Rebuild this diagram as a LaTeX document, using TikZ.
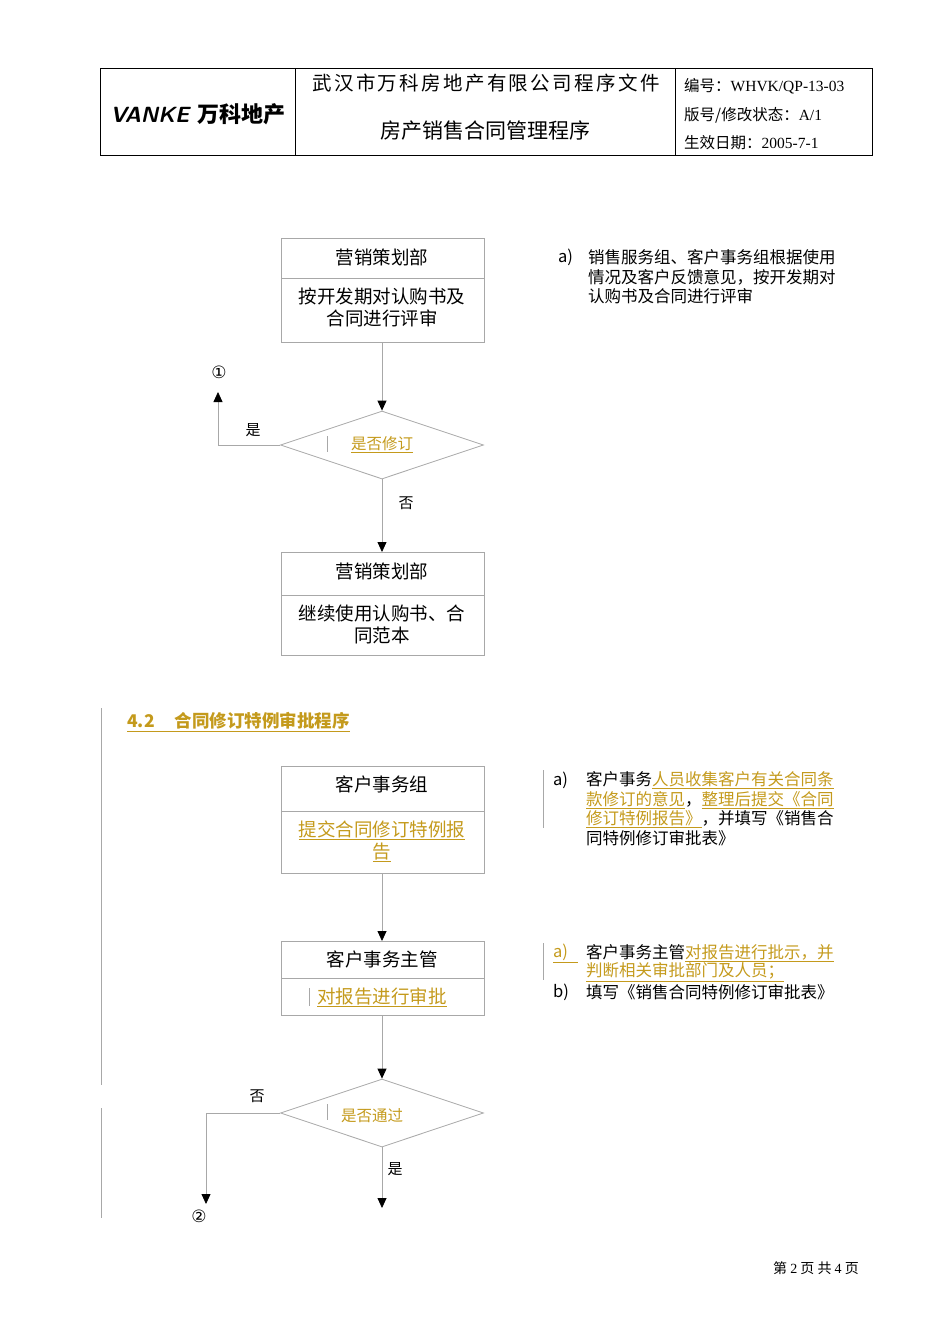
\documentclass[tikz,border=0pt]{standalone}
\usepackage{fontspec}
\setmainfont{Liberation Serif}
\newfontfamily\cjk{Noto Sans CJK SC}
\newfontfamily\cjkw[LetterSpace=12]{Noto Sans CJK SC}
\newfontfamily\dejavu{DejaVu Sans}
\usetikzlibrary{arrows.meta,shapes.geometric}
\definecolor{gold}{HTML}{C49A1C}
\definecolor{lgray}{HTML}{A8A8A8}
\newcommand{\gu}[1]{\textcolor{gold}{\underline{#1}}}
\tikzset{
  box/.style={draw=lgray,line width=0.8pt},
  conn/.style={draw=lgray,line width=0.8pt,-{Triangle[length=10pt,width=9pt,color=black]}},
  line/.style={draw=lgray,line width=0.8pt},
  bt/.style={font=\cjk\fontsize{18.5}{22}\selectfont,align=center,inner sep=0pt},
  st/.style={font=\cjk\fontsize{16.5}{19}\selectfont,anchor=west,inner sep=0pt},
  lbl/.style={font=\cjk\fontsize{15}{17}\selectfont,inner sep=0pt},
  hr/.style={font=\cjk\fontsize{15.5}{17}\selectfont,anchor=west,inner sep=0pt},
  circ/.style={font=\dejavu\fontsize{17}{19}\selectfont,inner sep=0pt},
  dia/.style={diamond,draw=lgray,line width=0.8pt,aspect=3,minimum width=203pt,minimum height=68pt,inner sep=0pt,font=\cjk\fontsize{15}{17}\selectfont,text=gold}
}
\begin{document}
\begin{tikzpicture}[x=1pt,y=-1pt]
\useasboundingbox (0,0) rectangle (950,1344);
% header
\draw[black,line width=0.8pt] (100,68) rectangle (872,155);
\draw[black,line width=0.8pt] (295,68) -- (295,155) (675,68) -- (675,155);
\node[font=\sffamily\bfseries\itshape\fontsize{22}{24}\selectfont,inner sep=0pt] (logo) at (198,114) {V\kern-2ptANKE {\cjk\bfseries 万科地产}};
\node[font=\cjkw\fontsize{19.5}{22}\selectfont,inner sep=0pt] (t1) at (486,83) {武汉市万科房地产有限公司程序文件};
\node[font=\cjk\fontsize{21}{23}\selectfont,inner sep=0pt] (t2) at (485,131) {房产销售合同管理程序};
\node[hr] (h1) at (684,86) {编号：{\rmfamily WHVK/QP-13-03}};
\node[hr] (h2) at (684,115) {版号/修改状态：{\rmfamily A/1}};
\node[hr] (h3) at (684,143) {生效日期：{\rmfamily 2005-7-1}};
% box1
\draw[box] (281,238) rectangle (484,342); \draw[line] (281,278) -- (484,278);
\coordinate (b1b) at (382,342);
\node[bt] (b1t) at (382,257) {营销策划部};
\node[bt] (b1c) at (382,307) {按开发期对认购书及\\合同进行评审};
\node[dia] (d1) at (382,445) {};
\node[font=\cjk\fontsize{15.5}{17}\selectfont,text=gold,inner sep=0pt] (d1t) at (382,445) {\underline{是否修订}};
\draw[line] (327,436) -- (327,452);
\draw[conn] (b1b) -- (d1.north);
\coordinate (c1) at (218,445);
\coordinate (c1e) at (218,392);
\draw[conn] (d1.west) -- (c1) -- (c1e);
\node[lbl] (y1) at (253,430) {是};
\node[circ] (n1) at (219,372) {①};
\node[lbl] (no1) at (406,503) {否};
\draw[box] (281,552) rectangle (484,655); \draw[line] (281,595) -- (484,595);
\coordinate (b2t) at (382,552);
\draw[conn] (d1.south) -- (b2t);
\node[bt] (b2a) at (382,571) {营销策划部};
\node[bt] (b2c) at (382,624) {继续使用认购书、合\\同范本};
% right text 1
\node[st] (r1a) at (558,257) {a)};
\node[st] (r1b) at (588,257) {销售服务组、客户事务组根据使用};
\node[st] (r1c) at (588,277) {情况及客户反馈意见，按开发期对};
\node[st] (r1d) at (588,296) {认购书及合同进行评审};
% section 4.2
\draw[line,line width=0.6pt] (101,708) -- (101,1085) (101,1108) -- (101,1218);
\node[font=\cjk\bfseries\fontsize{17.5}{19}\selectfont,anchor=west,inner sep=0pt,text=gold] (sec) at (127,722) {\underline{4.2\hspace{20pt}合同修订特例审批程序}};
% box3
\draw[box] (281,766) rectangle (484,873); \draw[line] (281,811) -- (484,811);
\node[bt] (b3a) at (382,784) {客户事务组};
\node[bt,text=gold] (b3c) at (382,841) {\underline{提交合同修订特例报}\\\underline{告}};
\coordinate (b3b) at (382,873);
\coordinate (b4t) at (382,941);
\draw[conn] (b3b) -- (b4t);
\draw[box] (281,941) rectangle (484,1015); \draw[line] (281,978) -- (484,978);
\node[bt] (b4a) at (382,959) {客户事务主管};
\node[bt,text=gold] (b4c) at (382,997) {\underline{对报告进行审批}};
\draw[line] (309,988) -- (309,1006);
\coordinate (b4b) at (382,1015);
\node[dia] (d2) at (382,1113) {};
\node[font=\cjk\fontsize{15.5}{17}\selectfont,text=gold,inner sep=0pt] (d2t) at (372,1116) {是否通过};
\draw[line] (327,1104) -- (327,1120);
\draw[conn] (b4b) -- (d2.north);
\coordinate (c2) at (206,1113);
\coordinate (c2e) at (206,1204);
\draw[conn] (d2.west) -- (c2) -- (c2e);
\node[lbl] (no2) at (257,1096) {否};
\node[circ] (n2) at (199,1216) {②};
\coordinate (d2e) at (382,1208);
\draw[conn] (d2.south) -- (d2e);
\node[lbl] (y2) at (395,1169) {是};
% right text 2
\draw[line,line width=0.6pt] (543,770) -- (543,828);
\node[st] (r2a) at (553,780) {a)};
\node[st] (r2b) at (586,780) {客户事务\gu{人员收集客户有关合同条}};
\node[st] (r2c) at (586,800) {\gu{款修订的意见}，\gu{整理后提交《合同}};
\node[st] (r2d) at (586,819) {\gu{修订特例报告》}，并填写《销售合};
\node[st] (r2e) at (586,838) {同特例修订审批表》};
\draw[line,line width=0.6pt] (543,943) -- (543,980);
\node[st] (r3a) at (553,953) {\gu{a)\hspace{10pt}}};
\node[st] (r3b) at (586,953) {客户事务主管\gu{对报告进行批示，并}};
\node[st] (r3c) at (586,972) {\gu{判断相关审批部门及人员；}};
\node[st] (r3d) at (553,992) {b)};
\node[st] (r3e) at (586,992) {填写《销售合同特例修订审批表》};
% footer
\node[font=\cjk\fontsize{14}{15}\selectfont,anchor=east,inner sep=0pt] (ft) at (859,1268) {第 {\rmfamily 2} 页 共 {\rmfamily 4} 页};
\end{tikzpicture}
\end{document}
